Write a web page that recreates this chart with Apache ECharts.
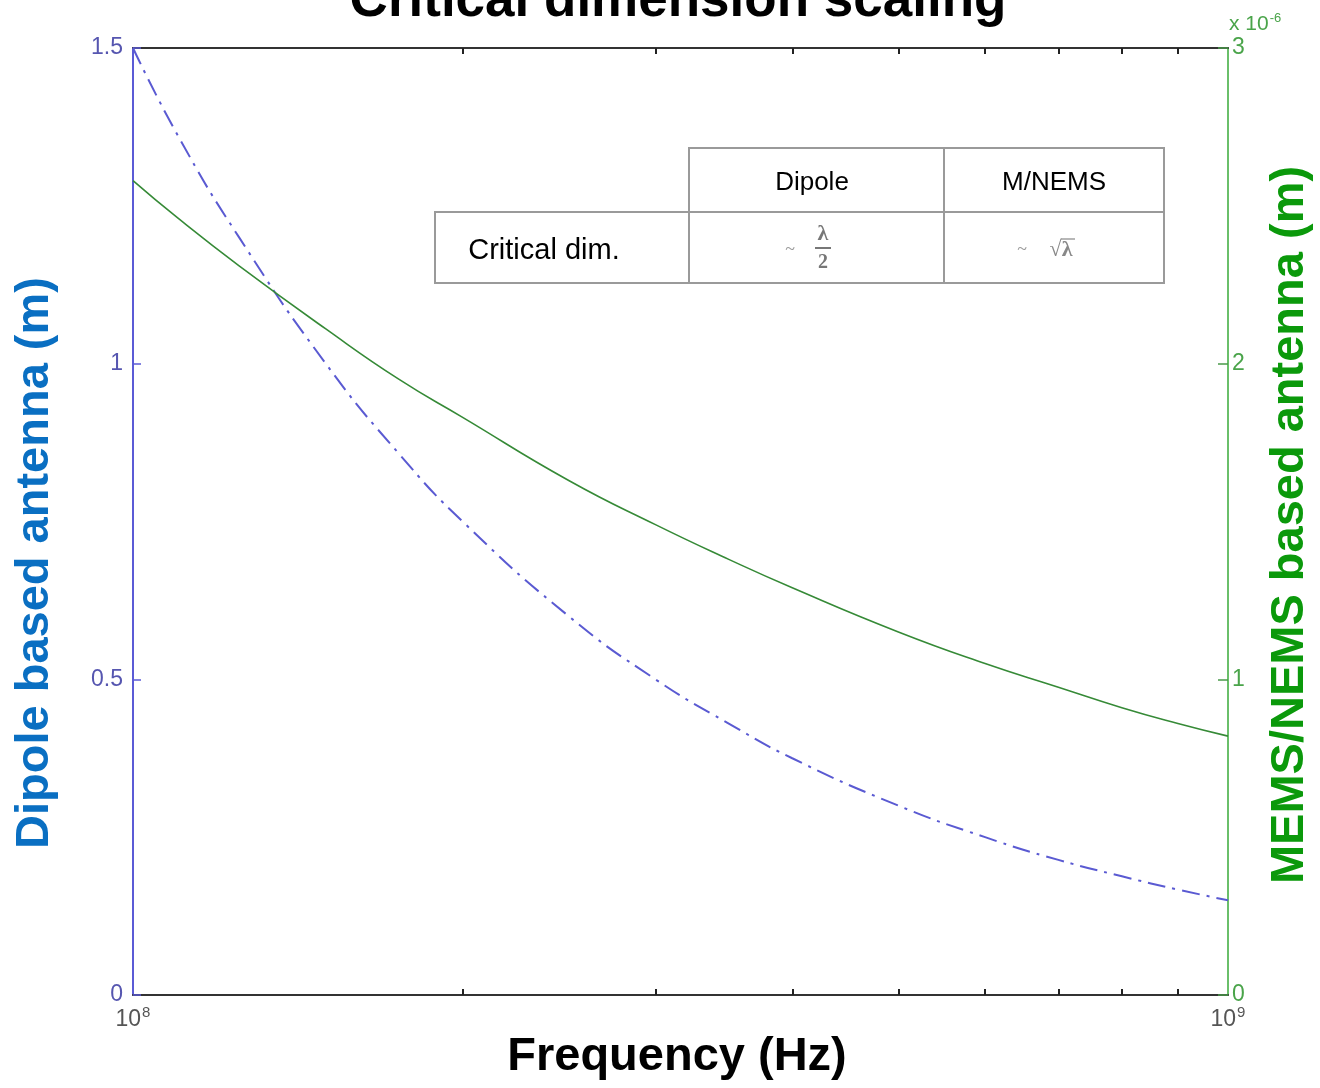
<!DOCTYPE html>
<html>
<head>
<meta charset="utf-8">
<script src="https://cdn.jsdelivr.net/npm/echarts@6/dist/echarts.min.js"></script>
<style>
html,body{margin:0;padding:0;background:#fff;}
#chart{width:1320px;height:1088px;}
</style>
</head>
<body>
<div id="chart"></div>
<script>
// Frequency (Hz)
const frequencies = [1.0e8, 1.1e8, 1.25e8, 1.5e8, 1.75e8, 2e8, 2.5e8, 3e8, 3.5e8, 4e8, 5e8, 6e8, 7e8, 8e8, 9e8, 1.0e9];
const dipoleValues = [1.5, 1.36, 1.2, 1.0, 0.857, 0.75, 0.6, 0.5, 0.43, 0.375, 0.3, 0.25, 0.214, 0.188, 0.167, 0.15];
const memsValues = [2.58, 2.46, 2.31, 2.11, 1.95, 1.83, 1.63, 1.49, 1.38, 1.29, 1.15, 1.05, 0.975, 0.91, 0.86, 0.82];
const xMinorTicks = [2e8, 3e8, 4e8, 5e8, 6e8, 7e8, 8e8, 9e8];
const xLabelValues = [1e8, 1e9];
const leftTicks = [0, 0.5, 1, 1.5];
const rightTicks = [0, 1, 2, 3];

const chart = echarts.init(document.getElementById('chart'));
const FONT = '"Liberation Sans", Arial, sans-serif';

const option = {
  backgroundColor: '#ffffff',
  animation: false,
  grid: { left: 133, right: 92, top: 48, bottom: 93, containLabel: false },
  xAxis: [
    {
      type: 'log', logBase: 10, min: 1e8, max: 1e9, position: 'bottom',
      axisLine: { show: true, onZero: false, lineStyle: { color: '#333', width: 2 } },
      axisTick: { show: true, inside: true, length: 6, customValues: xMinorTicks, lineStyle: { color: '#222', width: 2 } },
      axisLabel: {
        customValues: xLabelValues, margin: 10,
        formatter: function (v) { return '{b|10}{s|' + Math.round(Math.log10(v)) + '}'; },
        rich: {
          b: { fontFamily: FONT, fontSize: 23, color: '#555' },
          s: { fontFamily: FONT, fontSize: 15, color: '#555', padding: [0, 0, 14, 1] }
        }
      },
      splitLine: { show: false }, minorTick: { show: false }
    },
    {
      type: 'log', logBase: 10, min: 1e8, max: 1e9, position: 'top',
      axisLine: { show: true, onZero: false, lineStyle: { color: '#333', width: 2 } },
      axisTick: { show: true, inside: true, length: 6, customValues: xMinorTicks, lineStyle: { color: '#222', width: 2 } },
      axisLabel: { show: false },
      splitLine: { show: false }
    }
  ],
  yAxis: [
    {
      type: 'value', min: 0, max: 1.5, interval: 0.5, position: 'left',
      axisLine: { show: true, onZero: false, lineStyle: { color: '#5b5bd6', width: 2 } },
      axisTick: { show: true, inside: true, length: 8, customValues: leftTicks, lineStyle: { color: '#5b5bd6', width: 1.5 } },
      axisLabel: { customValues: leftTicks, margin: 10, fontFamily: FONT, fontSize: 23, color: '#5656b0',
        formatter: function (v) { return String(v); } },
      splitLine: { show: false }
    },
    {
      type: 'value', min: 0, max: 3, interval: 1, position: 'right',
      axisLine: { show: true, onZero: false, lineStyle: { color: '#6abf6a', width: 2 } },
      axisTick: { show: true, inside: true, length: 10, customValues: rightTicks, lineStyle: { color: '#4a9a4a', width: 1.5 } },
      axisLabel: { customValues: rightTicks, margin: 4, fontFamily: FONT, fontSize: 23, color: '#4aa44a' },
      splitLine: { show: false }
    }
  ],
  series: [
    {
      name: 'Dipole', type: 'line', xAxisIndex: 0, yAxisIndex: 0, smooth: true, symbol: 'none',
      data: frequencies.map((f, i) => [f, dipoleValues[i]]),
      lineStyle: { color: '#5a5ad2', width: 2, type: [18, 7, 3, 7] }
    },
    {
      name: 'MEMS/NEMS', type: 'line', xAxisIndex: 0, yAxisIndex: 1, smooth: true, symbol: 'none',
      data: frequencies.map((f, i) => [f, memsValues[i]]),
      lineStyle: { color: '#368a37', width: 1.6 }
    }
  ],
  graphic: [
    { type: 'text', x: 678, y: 28,
      style: { text: 'Critical dimension scaling', font: 'bold 53px ' + FONT, fill: '#000', textAlign: 'center', textVerticalAlign: 'bottom' } },
    { type: 'text', x: 35, y: 563, rotation: Math.PI / 2,
      style: { text: 'Dipole based antenna (m)', font: 'bold 47px ' + FONT, fill: '#0a6fc2', textAlign: 'center', textVerticalAlign: 'middle' } },
    { type: 'text', x: 1290, y: 525, rotation: Math.PI / 2,
      style: { text: 'MEMS/NEMS based antenna (m)', font: 'bold 47px ' + FONT, fill: '#0b990b', textAlign: 'center', textVerticalAlign: 'middle' } },
    { type: 'text', x: 677, y: 1057,
      style: { text: 'Frequency (Hz)', font: 'bold 47px ' + FONT, fill: '#000', textAlign: 'center', textVerticalAlign: 'middle' } },
    { type: 'text', x: 1229, y: 12,
      style: { text: '{a|x 10}{b|-6}', rich: {
        a: { fontFamily: FONT, fontSize: 21, fill: '#4aa44a' },
        b: { fontFamily: FONT, fontSize: 13, fill: '#4aa44a', padding: [0, 0, 12, 1] } } } },
    // table
    { type: 'rect', shape: { x: 689, y: 148, width: 255, height: 64 }, style: { fill: '#fff', stroke: '#9a9a9a', lineWidth: 2 } },
    { type: 'rect', shape: { x: 944, y: 148, width: 220, height: 64 }, style: { fill: '#fff', stroke: '#9a9a9a', lineWidth: 2 } },
    { type: 'rect', shape: { x: 435, y: 212, width: 254, height: 71 }, style: { fill: '#fff', stroke: '#9a9a9a', lineWidth: 2 } },
    { type: 'rect', shape: { x: 689, y: 212, width: 255, height: 71 }, style: { fill: '#fff', stroke: '#9a9a9a', lineWidth: 2 } },
    { type: 'rect', shape: { x: 944, y: 212, width: 220, height: 71 }, style: { fill: '#fff', stroke: '#9a9a9a', lineWidth: 2 } },
    { type: 'text', x: 812, y: 183, style: { text: 'Dipole', font: '26px ' + FONT, fill: '#000', textAlign: 'center', textVerticalAlign: 'middle' } },
    { type: 'text', x: 1054, y: 183, style: { text: 'M/NEMS', font: '26px ' + FONT, fill: '#000', textAlign: 'center', textVerticalAlign: 'middle' } },
    { type: 'text', x: 544, y: 251, style: { text: 'Critical dim.', font: '29px ' + FONT, fill: '#000', textAlign: 'center', textVerticalAlign: 'middle' } },
    { type: 'text', x: 790, y: 250, style: { text: '~', font: '18px "Liberation Serif", serif', fill: '#999', textAlign: 'center', textVerticalAlign: 'middle' } },
    { type: 'text', x: 823, y: 234, style: { text: 'λ', font: 'bold 22px "Liberation Serif", serif', fill: '#777', textAlign: 'center', textVerticalAlign: 'middle' } },
    { type: 'line', shape: { x1: 815, y1: 248, x2: 831, y2: 248 }, style: { stroke: '#777', lineWidth: 2 } },
    { type: 'text', x: 823, y: 263, style: { text: '2', font: 'bold 20px "Liberation Serif", serif', fill: '#777', textAlign: 'center', textVerticalAlign: 'middle' } },
    { type: 'text', x: 1022, y: 250, style: { text: '~', font: '18px "Liberation Serif", serif', fill: '#999', textAlign: 'center', textVerticalAlign: 'middle' } },
    { type: 'text', x: 1061, y: 250, style: { text: '√λ', font: 'bold 22px "Liberation Serif", serif', fill: '#888', textAlign: 'center', textVerticalAlign: 'middle' } },
    { type: 'line', shape: { x1: 1061, y1: 239, x2: 1075, y2: 239 }, style: { stroke: '#888', lineWidth: 1.2 } }
  ]
};
chart.setOption(option);
</script>
</body>
</html>
